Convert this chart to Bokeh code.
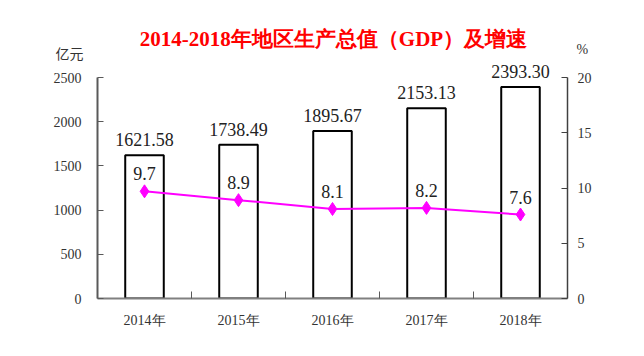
from bokeh.plotting import figure
from bokeh.models import Range1d, LinearAxis, FixedTicker, Label, LabelSet, ColumnDataSource
from bokeh.embed import file_html
from bokeh.resources import INLINE

years = ["2014年", "2015年", "2016年", "2017年", "2018年"]
gdp = [1621.58, 1738.49, 1895.67, 2153.13, 2393.30]
growth = [9.7, 8.9, 8.1, 8.2, 7.6]
left_ticks = [0, 500, 1000, 1500, 2000, 2500]
right_ticks = [0, 5, 10, 15, 20]
title_text = "2014-2018年地区生产总值（GDP）及增速"
left_unit = "亿元"
right_unit = "%"

SERIF = "Liberation Serif"

# frame spans from canvas y=10 to y=298; axes are bounded to 0..2500 / 0..20 (221 px)
TOP_PAD = 288 / 221
left_max, right_max = left_ticks[-1], right_ticks[-1]
# unit captions sit a little above the top ticks
LEFT_UNIT_POS = left_max * 246 / 221
RIGHT_UNIT_POS = right_max * 249 / 221

xs = [i + 0.5 for i in range(len(years))]
src = ColumnDataSource(dict(
    x=xs, gdp=gdp, growth=growth,
    gdp_lab=[f"{v:.2f}" for v in gdp],
    gr_lab=[f"{v:.1f}" for v in growth],
))

p = figure(width=644, height=356, x_range=Range1d(0, len(years)),
           y_range=Range1d(0, left_max * TOP_PAD),
           output_backend="svg", toolbar_location=None,
           min_border_left=97, min_border_right=77, min_border_top=10, min_border_bottom=58)
p.extra_y_ranges = {"pct": Range1d(0, right_max * TOP_PAD)}
p.outline_line_color = None
p.xgrid.visible = False
p.ygrid.visible = False
p.background_fill_color = "white"
p.border_fill_color = "white"

# x axis
xa = p.xaxis[0]
xa.ticker = FixedTicker(ticks=xs, minor_ticks=[1, 2, 3, 4])
xa.major_label_overrides = {x: y for x, y in zip(xs, years)}
xa.major_tick_in = 0
xa.major_tick_out = 0
xa.minor_tick_in = 7
xa.minor_tick_out = 0
xa.minor_tick_line_color = "#595959"
xa.axis_line_color = "#808080"
xa.axis_line_width = 2
xa.major_label_text_font = SERIF
xa.major_label_text_font_size = "14px"
xa.major_label_text_color = "#333333"
xa.major_label_standoff = 14

# left axis
ya = p.yaxis[0]
ya.ticker = FixedTicker(ticks=left_ticks)
ya.bounds = (0, left_max)
ya.major_tick_in = 6
ya.major_tick_out = 0
ya.minor_tick_in = 0
ya.minor_tick_out = 0
ya.axis_line_color = "#595959"
ya.axis_line_width = 2
ya.major_tick_line_color = "#595959"
ya.major_label_text_font = SERIF
ya.major_label_text_font_size = "14px"
ya.major_label_text_color = "#333333"
ya.major_label_standoff = 16

# left unit caption: an extra, line-less axis carrying one label
lu = LinearAxis(ticker=FixedTicker(ticks=[LEFT_UNIT_POS]),
                major_label_overrides={LEFT_UNIT_POS: left_unit})
lu.axis_line_color = None
lu.major_tick_line_color = None
lu.minor_tick_line_color = None
lu.major_tick_in = 0
lu.major_tick_out = 0
lu.major_label_standoff = -33
lu.major_label_text_font = "Noto Sans CJK SC"
lu.major_label_text_font_size = "14px"
lu.major_label_text_color = "#333333"
p.add_layout(lu, "left")

# right axis
ra = LinearAxis(y_range_name="pct", ticker=FixedTicker(ticks=right_ticks), bounds=(0, right_max))
ra.major_tick_in = 6
ra.major_tick_out = 0
ra.minor_tick_in = 0
ra.minor_tick_out = 0
ra.axis_line_color = "#404040"
ra.axis_line_width = 1.5
ra.major_tick_line_color = "#404040"
ra.major_label_text_font = SERIF
ra.major_label_text_font_size = "14px"
ra.major_label_text_color = "#333333"
ra.major_label_standoff = 10
p.add_layout(ra, "right")

# right unit caption
ru = LinearAxis(y_range_name="pct", ticker=FixedTicker(ticks=[RIGHT_UNIT_POS]),
                major_label_overrides={RIGHT_UNIT_POS: right_unit})
ru.axis_line_color = None
ru.major_tick_line_color = None
ru.minor_tick_line_color = None
ru.major_tick_in = 0
ru.major_tick_out = 0
ru.major_label_standoff = -18
ru.major_label_text_font = SERIF
ru.major_label_text_font_size = "14px"
ru.major_label_text_color = "#333333"
p.add_layout(ru, "right")

# bars
p.vbar(x="x", top="gdp", width=0.41, source=src, fill_color="white",
       line_color="black", line_width=2)
p.add_layout(LabelSet(x="x", y="gdp", text="gdp_lab", source=src, text_align="center",
                      text_baseline="bottom", y_offset=9, text_font=SERIF,
                      text_font_size="18px", text_color="#222222"))

# growth line
p.line(x="x", y="growth", source=src, y_range_name="pct", line_color="#FF00FF", line_width=2)
p.scatter(x="x", y="growth", source=src, y_range_name="pct", marker="diamond", size=13,
          fill_color="#FF00FF", line_color="#FF00FF")
p.add_layout(LabelSet(x="x", y="growth", text="gr_lab", source=src, y_range_name="pct",
                      text_align="center", text_baseline="bottom", y_offset=11,
                      text_font=SERIF, text_font_size="18px", text_color="#222222"))

# title (screen units relative to the frame's bottom-left)
p.add_layout(Label(x=236, y=260, x_units="screen", y_units="screen", text=title_text,
                   text_align="center", text_baseline="middle", text_font=SERIF,
                   text_font_size="21px", text_font_style="bold", text_color="#FF0000"))

open("out.html", "w").write(file_html(p, INLINE))
